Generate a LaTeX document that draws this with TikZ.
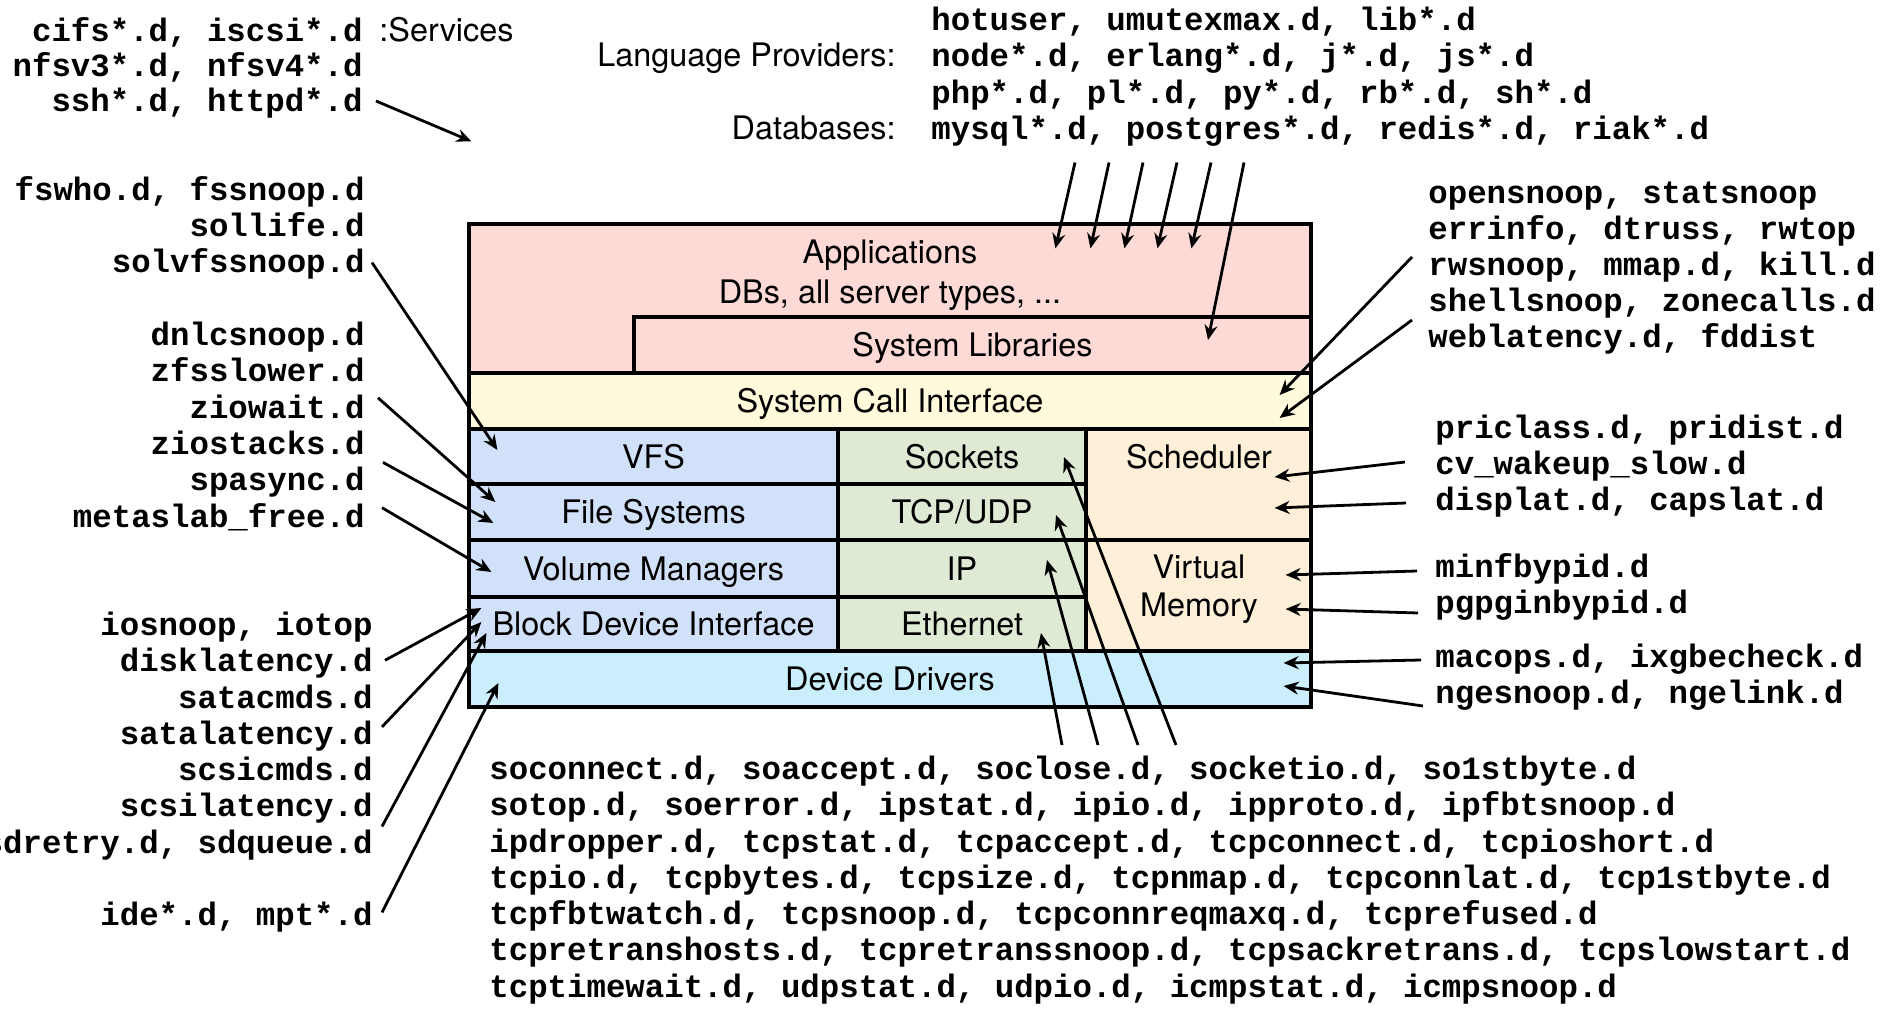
\documentclass[tikz,border=0pt]{standalone}
\usepackage{fontspec}
\setmainfont{TeX Gyre Heros}
\setmonofont{Liberation Mono}
\usetikzlibrary{positioning, fit, arrows.meta}

\definecolor{appfill}{RGB}{254,218,214}
\definecolor{scifill}{RGB}{255,250,220}
\definecolor{fsfill}{RGB}{210,225,250}
\definecolor{netfill}{RGB}{223,234,213}
\definecolor{cpufill}{RGB}{254,239,217}
\definecolor{devfill}{RGB}{203,238,253}

\tikzset{
  code/.style={font=\ttfamily\bfseries\fontsize{16.2}{18}\selectfont, inner sep=0pt, text height=12pt, text depth=3.6pt},
  txt/.style={font=\fontsize{16.2}{18}\selectfont, inner sep=0pt, text height=11.6pt, text depth=0pt},
  layer/.style={draw, line width=1.6pt, inner sep=0pt},
  probe/.style={-{Stealth[length=7.5pt, width=6.5pt]}, line width=1.4pt}
}

\begin{document}
\begin{tikzpicture}[x=0.5pt, y=-0.5pt]
\useasboundingbox (0,0) rectangle (1884,1010);

% the stack
\node[layer, fill=appfill, fit={(469,224) (1311,373)}] (apps) {};
\node[txt] (apptitle) at (890,252) {Applications};
\node[txt] (appsub) at (890,292) {DBs, all server types, ...};
\node[layer, fill=appfill, fit={(634,317) (1311,373)}, label={[txt]center:System Libraries}] (syslib) {};
\node[layer, fill=scifill, fit={(469,373) (1311,429)}, label={[txt]center:System Call Interface}] (sci) {};
\node[layer, fill=fsfill, fit={(469,429) (838,484)}, label={[txt]center:VFS}] (vfs) {};
\node[layer, fill=fsfill, fit={(469,484) (838,540)}, label={[txt]center:File Systems}] (fs) {};
\node[layer, fill=fsfill, fit={(469,540) (838,597)}, label={[txt]center:Volume Managers}] (vm) {};
\node[layer, fill=fsfill, fit={(469,597) (838,651)}, label={[txt]center:Block Device Interface}] (bdi) {};
\node[layer, fill=netfill, fit={(838,429) (1086,484)}, label={[txt]center:Sockets}] (sock) {};
\node[layer, fill=netfill, fit={(838,484) (1086,540)}, label={[txt]center:TCP/UDP}] (tcp) {};
\node[layer, fill=netfill, fit={(838,540) (1086,597)}, label={[txt]center:IP}] (ip) {};
\node[layer, fill=netfill, fit={(838,597) (1086,651)}, label={[txt]center:Ethernet}] (eth) {};
\node[layer, fill=cpufill, fit={(1086,429) (1311,540)}] (sched) {};
\node[txt] (schedtxt) at (1199,457) {Scheduler};
\node[layer, fill=cpufill, fit={(1086,540) (1311,651)}] (virt) {};
\node[txt] (virtline) at (1199,567) {Virtual};
\node[txt] (memline) at (1199,605) {Memory};
\node[layer, fill=devfill, fit={(469,651) (1311,707)}, label={[txt]center:Device Drivers}] (dd) {};

% services
\node[code, anchor=east] (cifs) at (363,33) {cifs*.d, iscsi*.d};
\node[txt, anchor=base west] (services) at ([xshift=8pt]cifs.base east) {:Services};
\node[code, anchor=east] (nfs) at (363,68) {nfsv3*.d, nfsv4*.d};
\node[code, anchor=east] (ssh) at (363,103) {ssh*.d, httpd*.d};

% language providers, databases
\node[code, anchor=west] (hotuser) at (931,22) {hotuser, umutexmax.d, lib*.d};
\node[code, anchor=west] (nodes) at (931,58.5) {node*.d, erlang*.d, j*.d, js*.d};
\node[code, anchor=west] (php) at (931,95) {php*.d, pl*.d, py*.d, rb*.d, sh*.d};
\node[code, anchor=west] (mysql) at (931,131.5) {mysql*.d, postgres*.d, redis*.d, riak*.d};
\node[txt, anchor=base east] (lang) at ([xshift=-17.5pt]nodes.base west) {Language Providers:};
\node[txt, anchor=base east] (dbs) at ([xshift=-17.5pt]mysql.base west) {Databases:};

% file systems
\node[code, anchor=east] (fswho) at (365,192) {fswho.d, fssnoop.d};
\node[code, anchor=east] (sollife) at (365,228.3) {sollife.d};
\node[code, anchor=east] (solv) at (365,264.6) {solvfssnoop.d};
\node[code, anchor=east] (dnlc) at (365,337.2) {dnlcsnoop.d};
\node[code, anchor=east] (zfsslow) at (365,373.5) {zfsslower.d};
\node[code, anchor=east] (ziowait) at (365,409.8) {ziowait.d};
\node[code, anchor=east] (ziostacks) at (365,446.1) {ziostacks.d};
\node[code, anchor=east] (spasync) at (365,482.4) {spasync.d};
\node[code, anchor=east] (metaslab) at (365,518.7) {metaslab\_free.d};

% disks
\node[code, anchor=east] (iosnoop) at (373,627) {iosnoop, iotop};
\node[code, anchor=east] (disklat) at (373,663.3) {disklatency.d};
\node[code, anchor=east] (satacmds) at (373,699.6) {satacmds.d};
\node[code, anchor=east] (satalat) at (373,735.9) {satalatency.d};
\node[code, anchor=east] (scsicmds) at (373,772.2) {scsicmds.d};
\node[code, anchor=east] (scsilat) at (373,808.5) {scsilatency.d};
\node[code, anchor=east] (sdretry) at (373,844.8) {sdretry.d, sdqueue.d};
\node[code, anchor=east] (ide) at (373,917.4) {ide*.d, mpt*.d};

% syscalls
\node[code, anchor=west] (opensnoop) at (1428,195) {opensnoop, statsnoop};
\node[code, anchor=west] (errinfo) at (1428,231) {errinfo, dtruss, rwtop};
\node[code, anchor=west] (rwsnoop) at (1428,267) {rwsnoop, mmap.d, kill.d};
\node[code, anchor=west] (shellsnoop) at (1428,303) {shellsnoop, zonecalls.d};
\node[code, anchor=west] (weblat) at (1428,339) {weblatency.d, fddist};

% cpu, memory, drivers
\node[code, anchor=west] (priclass) at (1435,430) {priclass.d, pridist.d};
\node[code, anchor=west] (cvwake) at (1435,466) {cv\_wakeup\_slow.d};
\node[code, anchor=west] (displat) at (1435,502) {displat.d, capslat.d};
\node[code, anchor=west] (minf) at (1435,569) {minfbypid.d};
\node[code, anchor=west] (pgpg) at (1435,605) {pgpginbypid.d};
\node[code, anchor=west] (macops) at (1435,659) {macops.d, ixgbecheck.d};
\node[code, anchor=west] (nges) at (1435,695) {ngesnoop.d, ngelink.d};

% network
\node[code, anchor=west] (soconn) at (489,771) {soconnect.d, soaccept.d, soclose.d, socketio.d, so1stbyte.d};
\node[code, anchor=west] (sotop) at (489,807.3) {sotop.d, soerror.d, ipstat.d, ipio.d, ipproto.d, ipfbtsnoop.d};
\node[code, anchor=west] (ipdrop) at (489,843.6) {ipdropper.d, tcpstat.d, tcpaccept.d, tcpconnect.d, tcpioshort.d};
\node[code, anchor=west] (tcpio) at (489,879.9) {tcpio.d, tcpbytes.d, tcpsize.d, tcpnmap.d, tcpconnlat.d, tcp1stbyte.d};
\node[code, anchor=west] (tcpfbt) at (489,916.2) {tcpfbtwatch.d, tcpsnoop.d, tcpconnreqmaxq.d, tcprefused.d};
\node[code, anchor=west] (tcpretr) at (489,952.5) {tcpretranshosts.d, tcpretranssnoop.d, tcpsackretrans.d, tcpslowstart.d};
\node[code, anchor=west] (tcptw) at (489,988.8) {tcptimewait.d, udpstat.d, udpio.d, icmpstat.d, icmpsnoop.d};

% arrows
\draw[probe] ([shift={(13,-2)}]ssh.east) -- ([shift={(4,-81)}]apps.north west);
\draw[probe] ([shift={(7,-2)}]solv.east) -- ([shift={(30,-6.5)}]vfs.west);
\draw[probe] ([shift={(13,-12)}]ziowait.east) -- ([shift={(28,-10)}]fs.west);
\draw[probe] ([shift={(18,-20)}]spasync.east) -- ([shift={(26,11)}]fs.west);
\draw[probe] ([shift={(17,-11)}]metaslab.east) -- ([shift={(24,3.5)}]vm.west);
\draw[probe] ([shift={(12,-3)}]disklat.east) -- ([shift={(14,-16)}]bdi.west);
\draw[probe] ([shift={(9,-9)}]satalat.east) -- ([shift={(14,-2)}]bdi.west);
\draw[probe] ([shift={(9,18)}]scsilat.east) -- ([shift={(19,9)}]bdi.west);
\draw[probe] ([shift={(9,-5)}]ide.east) -- ([shift={(31,4)}]dd.west);

\draw[probe] ([shift={(144,15)}]mysql.south west) -- ([shift={(588,26)}]apps.north west);
\draw[probe] ([shift={(178,15)}]mysql.south west) -- ([shift={(623,26)}]apps.north west);
\draw[probe] ([shift={(212,15)}]mysql.south west) -- ([shift={(657,26)}]apps.north west);
\draw[probe] ([shift={(246,15)}]mysql.south west) -- ([shift={(690,26)}]apps.north west);
\draw[probe] ([shift={(280,15)}]mysql.south west) -- ([shift={(724,26)}]apps.north west);
\draw[probe] ([shift={(313,15)}]mysql.south west) -- ([shift={(235.5,-5)}]syslib.center);

\draw[probe] ([shift={(-16,-10)}]rwsnoop.west) -- ([shift={(-33,-6)}]sci.east);
\draw[probe] ([shift={(-16,-19)}]weblat.west) -- ([shift={(-33,17)}]sci.east);
\draw[probe] ([shift={(-30,-4)}]cvwake.west) -- ([shift={(-38,-7.5)}]sched.east);
\draw[probe] ([shift={(-29,1)}]displat.west) -- ([shift={(-38,23.5)}]sched.east);
\draw[probe] ([shift={(-18,2)}]minf.west) -- ([shift={(-27,-20.5)}]virt.east);
\draw[probe] ([shift={(-17,8)}]pgpg.west) -- ([shift={(-27,13.5)}]virt.east);
\draw[probe] ([shift={(-14,1)}]macops.west) -- ([shift={(-29,-16)}]dd.east);
\draw[probe] ([shift={(-12,11)}]nges.west) -- ([shift={(-29,7)}]dd.east);

\draw[probe] ([shift={(573,-10)}]soconn.north west) -- ([shift={(79,9)}]eth.center);
\draw[probe] ([shift={(609,-10)}]soconn.north west) -- ([shift={(85,-8.5)}]ip.center);
\draw[probe] ([shift={(649,-10)}]soconn.north west) -- ([shift={(94,3)}]tcp.center);
\draw[probe] ([shift={(687,-10)}]soconn.north west) -- ([shift={(102,0.5)}]sock.center);

\end{tikzpicture}
\end{document}
